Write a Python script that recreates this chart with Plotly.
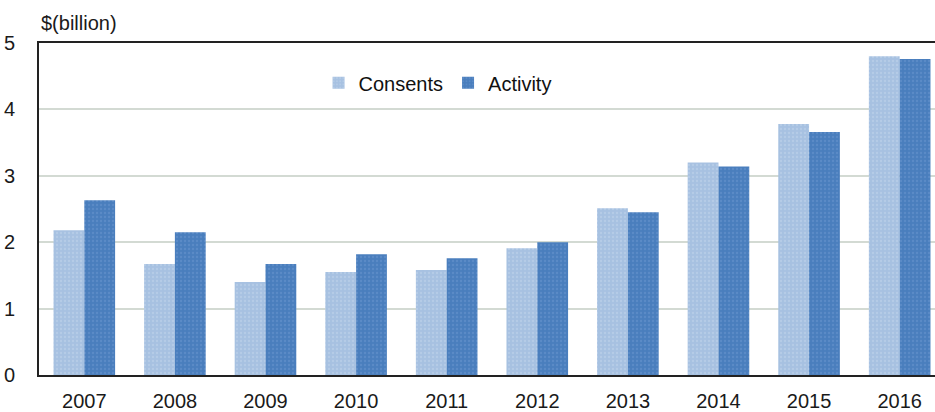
import plotly.graph_objects as go

years = ["2007", "2008", "2009", "2010", "2011", "2012", "2013", "2014", "2015", "2016"]
consents = [2.18, 1.67, 1.40, 1.55, 1.58, 1.91, 2.51, 3.20, 3.78, 4.80]
activity = [2.63, 2.15, 1.67, 1.82, 1.76, 2.00, 2.45, 3.14, 3.66, 4.76]

font_family = "Liberation Sans, Arial, sans-serif"

# light stipple on the bar fills
consents_fill = dict(color="#a9c3e2", line=dict(width=0),
                     pattern=dict(shape=".", bgcolor="#a7c1e1", fgcolor="#c3d5ec",
                                  size=4, solidity=0.25))
activity_fill = dict(color="#4a7ebd", line=dict(width=0),
                     pattern=dict(shape=".", bgcolor="#4a7ebd", fgcolor="#6b97cf",
                                  size=4, solidity=0.25))

fig = go.Figure()
fig.add_trace(go.Bar(x=years, y=consents, name="Consents", marker=consents_fill))
fig.add_trace(go.Bar(x=years, y=activity, name="Activity", marker=activity_fill))

fig.update_layout(
    width=935, height=412,
    margin=dict(l=39, r=0, t=43, b=37),
    paper_bgcolor="white", plot_bgcolor="white",
    barmode="group", bargap=0.32, bargroupgap=0,
    font=dict(family=font_family, size=20, color="#1a1a1a"),
    showlegend=True,
    legend=dict(orientation="h", x=0.312, y=0.88, xanchor="left", yanchor="middle",
                font=dict(size=20, color="#111111"), bgcolor="rgba(0,0,0,0)",
                itemwidth=30, tracegroupgap=0),
    annotations=[dict(text="$(billion)", xref="paper", yref="paper", x=0, y=1,
                      xanchor="left", yanchor="bottom", yshift=7, showarrow=False,
                      font=dict(size=20, color="#1a1a1a"))],
)
fig.update_xaxes(
    type="category", range=[-0.5, 9.39],
    showline=True, linecolor="#222222", linewidth=2, mirror=True,
    ticks="", showgrid=False, ticklabelstandoff=7,
    tickfont=dict(size=20),
)
fig.update_yaxes(
    range=[0, 5], dtick=1, tickvals=[0, 1, 2, 3, 4, 5],
    showline=True, linecolor="#222222", linewidth=2,
    showgrid=True, gridcolor="#d3dad3", gridwidth=1.5,
    ticks="", zeroline=False, ticklabelstandoff=18,
    tickfont=dict(size=20),
)

fig.write_html("out.html")
